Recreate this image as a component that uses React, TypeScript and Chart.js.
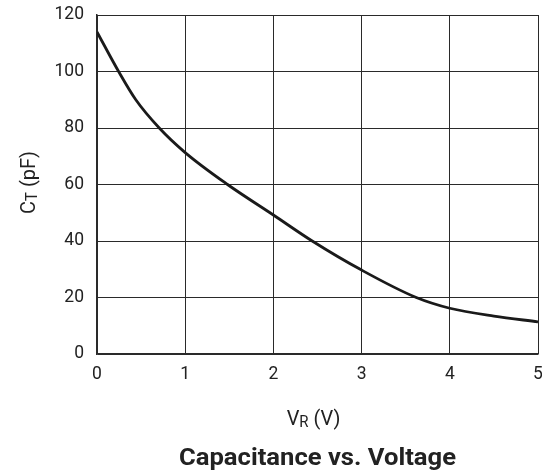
import React, { useEffect, useRef } from "react";
import { Chart, registerables } from "chart.js";

Chart.register(...registerables);

const voltage = [0, 0.245, 0.44, 0.706, 1, 1.48, 2, 2.44, 3, 3.62, 4, 4.5, 5];
const capacitance = [114, 100, 90, 80, 71.3, 60, 49.2, 40, 29.7, 20, 16.2, 13.4, 11.4];
const xTicks = [0, 1, 2, 3, 4, 5];
const yTicks = [0, 20, 40, 60, 80, 100, 120];
const chartTitle = "Capacitance vs. Voltage";

const FONT = "Roboto, 'DejaVu Sans Condensed', sans-serif";

const labelsPlugin = {
  id: "labelsPlugin",
  afterDraw(chart: any) {
    const ctx = chart.ctx as CanvasRenderingContext2D;
    const a = chart.chartArea;
    const cx = (a.left + a.right) / 2;
    ctx.save();
    ctx.fillStyle = "#222";
    const condense = 0.95;
    const drawSub = (main: string, sub: string, rest: string, size: number) => {
      ctx.font = `${size}px ${FONT}`;
      const w1 = ctx.measureText(main).width;
      ctx.font = `${size * 0.75}px ${FONT}`;
      const w2 = ctx.measureText(sub).width;
      ctx.font = `${size}px ${FONT}`;
      const w3 = ctx.measureText(rest).width;
      const total = w1 + w2 + w3;
      ctx.scale(condense, 1);
      let x = -total / 2;
      ctx.textBaseline = "alphabetic";
      ctx.textAlign = "left";
      ctx.font = `${size}px ${FONT}`;
      ctx.fillText(main, x, 0);
      x += w1;
      ctx.font = `${size * 0.75}px ${FONT}`;
      ctx.fillText(sub, x, size * 0.1);
      x += w2;
      ctx.font = `${size}px ${FONT}`;
      ctx.fillText(rest, x, 0);
    };
    ctx.save();
    ctx.translate(cx - 4, 425);
    drawSub("V", "R", " (V)", 21);
    ctx.restore();

    ctx.save();
    ctx.translate(35, (a.top + a.bottom) / 2 - 2);
    ctx.rotate(-Math.PI / 2);
    drawSub("C", "T", " (pF)", 21);
    ctx.restore();

    ctx.font = `bold 24px ${FONT}`;
    const tw = ctx.measureText(chartTitle).width;
    const target = 277;
    ctx.translate(cx, 465);
    ctx.scale(target / tw, 1);
    ctx.textAlign = "center";
    ctx.textBaseline = "alphabetic";
    ctx.fillStyle = "#222";
    ctx.fillText(chartTitle, 0, 0);
    ctx.restore();
  },
};

export default function App() {
  const ref = useRef<HTMLCanvasElement | null>(null);
  useEffect(() => {
    if (!ref.current) return;
    const chart = new Chart(ref.current, {
      type: "line",
      data: {
        datasets: [
          {
            data: voltage.map((v, i) => ({ x: v, y: capacitance[i] })),
            borderColor: "#1a1a1a",
            borderWidth: 2.8,
            pointRadius: 0,
            fill: false,
            cubicInterpolationMode: "monotone",
          },
        ],
      },
      options: {
        animation: false,
        responsive: false,
        maintainAspectRatio: false,
        layout: { padding: { left: 0, top: 15, right: 4, bottom: 0 } },
        plugins: { legend: { display: false }, tooltip: { enabled: false }, title: { display: false } },
        scales: {
          x: {
            type: "linear",
            min: 0,
            max: 5,
            afterBuildTicks: (s: any) => {
              s.ticks = xTicks.map((v) => ({ value: v }));
            },
            afterFit: (s: any) => {
              s.height = 120;
              s.paddingLeft = 0;
              s.paddingRight = 0;
            },
            grid: { color: "#2a2a2a", lineWidth: 1, drawTicks: false },
            border: { color: "#2a2a2a", width: 1.5 },
            ticks: { color: "#222", font: { family: FONT, size: 17.5 }, padding: 10, maxRotation: 0 },
          },
          y: {
            type: "linear",
            min: 0,
            max: 120,
            afterBuildTicks: (s: any) => {
              s.ticks = yTicks.map((v) => ({ value: v }));
            },
            afterFit: (s: any) => {
              s.width = 97;
              s.paddingTop = 0;
              s.paddingBottom = 0;
            },
            grid: { color: "#2a2a2a", lineWidth: 1, drawTicks: false },
            border: { color: "#2a2a2a", width: 1.5 },
            ticks: { color: "#222", font: { family: FONT, size: 17.5 }, padding: 13 },
          },
        },
      },
      plugins: [labelsPlugin],
    } as any);
    return () => chart.destroy();
  }, []);
  return (
    <div style={{ position: "absolute", left: 0, top: 0, width: 542, height: 474, background: "#fff" }}>
      <canvas ref={ref} width={542} height={474} style={{ width: 542, height: 474 }} />
    </div>
  );
}
